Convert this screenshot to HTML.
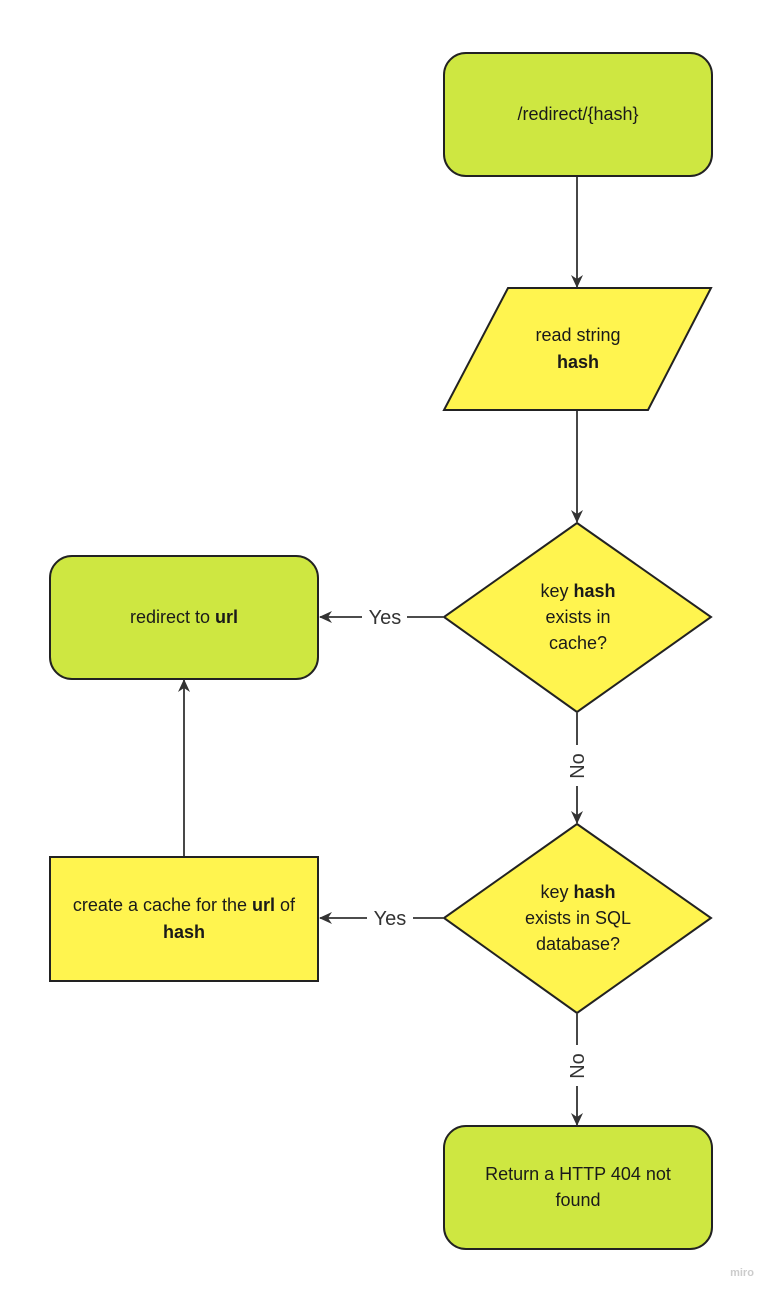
<!DOCTYPE html>
<html><head><meta charset="utf-8"><style>
body{margin:0;background:#fff}
svg text{font-family:"Liberation Sans",sans-serif;font-size:18px;fill:#1a1a1a}
</style></head><body>
<svg width="773" height="1293" viewBox="0 0 773 1293" xmlns="http://www.w3.org/2000/svg">
<defs><marker id="a" markerWidth="16" markerHeight="16" refX="13" refY="7" orient="auto" markerUnits="userSpaceOnUse"><path d="M1,1 L14,7 L1,13 L5,7 Z" fill="#333"/></marker></defs>
<g stroke="#222" stroke-width="2">
<rect x="444" y="53" width="268" height="123" rx="22" fill="#cee741"/>
<polygon points="508,288 711,288 648,410 444,410" fill="#fff44f"/>
<polygon points="577,523 711,617 577,712 444,617" fill="#fff44f"/>
<rect x="50" y="556" width="268" height="123" rx="22" fill="#cee741"/>
<polygon points="577,824 711,918 577,1013 444,918" fill="#fff44f"/>
<rect x="50" y="857" width="268" height="124" fill="#fff44f"/>
<rect x="444" y="1126" width="268" height="123" rx="22" fill="#cee741"/>
</g>
<g stroke="#333" stroke-width="1.8" fill="none">
<line x1="577" y1="177" x2="577" y2="287" marker-end="url(#a)"/>
<line x1="577" y1="411" x2="577" y2="522" marker-end="url(#a)"/>
<line x1="443" y1="617" x2="407" y2="617"/><line x1="362" y1="617" x2="320" y2="617" marker-end="url(#a)"/>
<line x1="577" y1="713" x2="577" y2="745"/><line x1="577" y1="786" x2="577" y2="823" marker-end="url(#a)"/>
<line x1="443" y1="918" x2="413" y2="918"/><line x1="367" y1="918" x2="320" y2="918" marker-end="url(#a)"/>
<line x1="184" y1="856" x2="184" y2="680" marker-end="url(#a)"/>
<line x1="577" y1="1014" x2="577" y2="1045"/><line x1="577" y1="1086" x2="577" y2="1125" marker-end="url(#a)"/>
</g>
<g text-anchor="middle">
<text x="578" y="120">/redirect/{hash}</text>
<text x="578" y="341">read string</text>
<text x="578" y="368" font-weight="bold">hash</text>
<text x="578" y="597">key <tspan font-weight="bold">hash</tspan></text>
<text x="578" y="623">exists in</text>
<text x="578" y="649">cache?</text>
<text x="184" y="623">redirect to <tspan font-weight="bold">url</tspan></text>
<text x="578" y="898">key <tspan font-weight="bold">hash</tspan></text>
<text x="578" y="924">exists in SQL</text>
<text x="578" y="950">database?</text>
<text x="184" y="911">create a cache for the <tspan font-weight="bold">url</tspan> of</text>
<text x="184" y="938" font-weight="bold">hash</text>
<text x="578" y="1180">Return a HTTP 404 not</text>
<text x="578" y="1206">found</text>
<text x="385" y="624" style="font-size:20px;fill:#333">Yes</text>
<text x="390" y="925" style="font-size:20px;fill:#333">Yes</text>
<text transform="translate(584,766) rotate(-90)" style="font-size:20px;fill:#333">No</text>
<text transform="translate(584,1066) rotate(-90)" style="font-size:20px;fill:#333">No</text>
<text x="742" y="1276" style="font-size:11px;fill:#ccc;font-weight:bold">miro</text>
</g>
</svg>
</body></html>
